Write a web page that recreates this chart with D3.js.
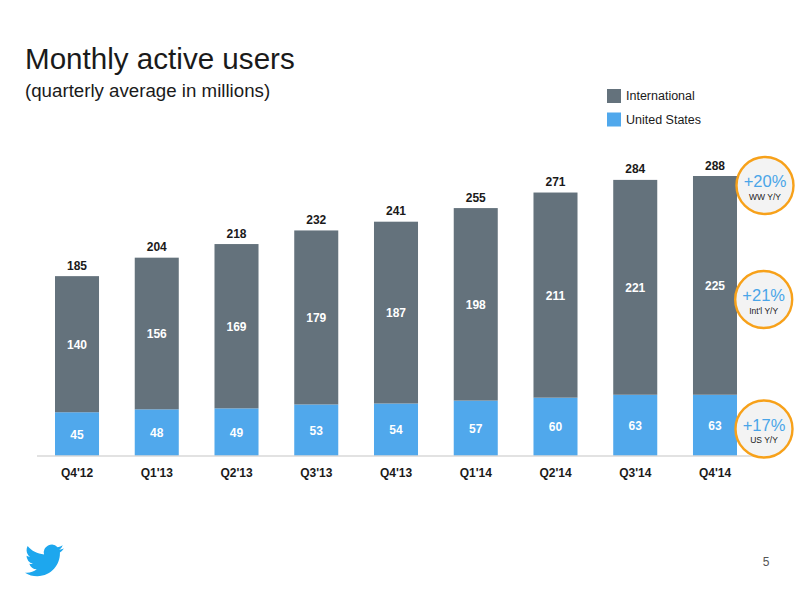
<!DOCTYPE html>
<html>
<head>
<meta charset="utf-8">
<script src="https://cdn.jsdelivr.net/npm/d3@7"></script>
<style>
  html, body { margin: 0; padding: 0; background: #fff; }
  svg { display: block; }
  text { font-family: "Liberation Sans", Arial, sans-serif; }
  .axis .domain { stroke: #d9d9d9; stroke-width: 1.5px; }
  .axis text { font-size: 12px; font-weight: bold; fill: #1a1a1a; }
</style>
</head>
<body>
<svg id="chart" width="800" height="600"></svg>
<script>
const quarters = ["Q4'12", "Q1'13", "Q2'13", "Q3'13", "Q4'13", "Q1'14", "Q2'14", "Q3'14", "Q4'14"];
const unitedStates = [45, 48, 49, 53, 54, 57, 60, 63, 63];
const international = [140, 156, 169, 179, 187, 198, 211, 221, 225];
const totals = [185, 204, 218, 232, 241, 255, 271, 284, 288];
const seriesNames = ["International", "United States"];
const growthValues = ["+20%", "+21%", "+17%"];
const growthLabels = ["WW Y/Y", "Int'l Y/Y", "US Y/Y"];

const GREY = "#64727c";
const BLUE = "#50a8ec";

const svg = d3.select("#chart");

const x = d3.scaleBand().domain(quarters).range([55, 737]).paddingInner(0.448);
const y = d3.scaleLinear().domain([0, 288]).range([456, 176]);

// title block
svg.append("text").attr("x", 25).attr("y", 68.5)
  .attr("font-size", 29.6).attr("fill", "#1a1a1a").text("Monthly active users");
svg.append("text").attr("x", 25).attr("y", 97)
  .attr("font-size", 18.7).attr("fill", "#1a1a1a").text("(quarterly average in millions)");

// legend
const legend = svg.selectAll(".legend").data(seriesNames).join("g")
  .attr("class", "legend")
  .attr("transform", (d, i) => `translate(607,${89 + i * 23.5})`);
legend.append("rect").attr("width", 14).attr("height", 14)
  .attr("fill", (d, i) => i === 0 ? GREY : BLUE);
legend.append("text").attr("x", 19).attr("y", 11)
  .attr("font-size", 12.5).attr("fill", "#1a1a1a").text(d => d);

// stacked bars
const rows = quarters.map((q, i) => ({ q, us: unitedStates[i], intl: international[i], total: totals[i] }));

svg.selectAll(".bar-us").data(rows).join("rect")
  .attr("class", "bar-us")
  .attr("x", d => x(d.q)).attr("width", x.bandwidth())
  .attr("y", d => y(d.us)).attr("height", d => y(0) - y(d.us))
  .attr("fill", BLUE);

svg.selectAll(".bar-intl").data(rows).join("rect")
  .attr("class", "bar-intl")
  .attr("x", d => x(d.q)).attr("width", x.bandwidth())
  .attr("y", d => y(d.us + d.intl)).attr("height", d => y(d.us) - y(d.us + d.intl))
  .attr("fill", GREY);

const mid = x.bandwidth() / 2;

svg.selectAll(".label-us").data(rows).join("text")
  .attr("class", "label-us")
  .attr("x", d => x(d.q) + mid).attr("y", d => y(d.us / 2) + 4.5)
  .attr("text-anchor", "middle").attr("font-size", 12).attr("font-weight", "bold")
  .attr("fill", "#fff").text(d => d.us);

svg.selectAll(".label-intl").data(rows).join("text")
  .attr("class", "label-intl")
  .attr("x", d => x(d.q) + mid).attr("y", d => y(d.us + d.intl / 2) + 4.5)
  .attr("text-anchor", "middle").attr("font-size", 12).attr("font-weight", "bold")
  .attr("fill", "#fff").text(d => d.intl);

svg.selectAll(".label-total").data(rows).join("text")
  .attr("class", "label-total")
  .attr("x", d => x(d.q) + mid).attr("y", d => y(d.total) - 6.5)
  .attr("text-anchor", "middle").attr("font-size", 12).attr("font-weight", "bold")
  .attr("fill", "#1a1a1a").text(d => d.total);

// axis
const axis = svg.append("g").attr("class", "axis")
  .attr("transform", `translate(0,${y(0)})`)
  .call(d3.axisBottom(x).tickSize(0).tickPadding(12));
axis.select(".domain").attr("d", "M37,0H755");

// growth callouts
const calloutX = [765, 763.7, 764];
const calloutY = [185.5, 299.5, 429];
const callout = svg.selectAll(".callout").data(growthValues).join("g")
  .attr("class", "callout")
  .attr("transform", (d, i) => `translate(${calloutX[i]},${calloutY[i]})`);
callout.append("circle").attr("r", 28.5)
  .attr("fill", "#f3f3f3").attr("stroke", "#f7a11a").attr("stroke-width", 2.4);
callout.append("text").attr("y", 1.5).attr("text-anchor", "middle")
  .attr("font-size", 16.5).attr("fill", "#4aa5e8").text(d => d);
callout.append("text").attr("y", 14).attr("text-anchor", "middle")
  .attr("font-size", 8.5).attr("fill", "#1a1a1a").text((d, i) => growthLabels[i]);

// bird logo
svg.append("path")
  .attr("transform", "translate(25,541) scale(1.62)")
  .attr("fill", "#1da7ee")
  .attr("d", "M23.953 4.57a10 10 0 01-2.825.775 4.958 4.958 0 002.163-2.723c-.951.555-2.005.959-3.127 1.184a4.92 4.92 0 00-8.384 4.482C7.69 8.095 4.067 6.13 1.64 3.162a4.822 4.822 0 00-.666 2.475c0 1.71.87 3.213 2.188 4.096a4.904 4.904 0 01-2.228-.616v.06a4.923 4.923 0 003.946 4.827 4.996 4.996 0 01-2.212.085 4.936 4.936 0 004.604 3.417 9.867 9.867 0 01-6.102 2.105c-.39 0-.779-.023-1.17-.067a13.995 13.995 0 007.557 2.209c9.053 0 13.998-7.496 13.998-13.985 0-.21 0-.42-.015-.63A9.935 9.935 0 0024 4.59z");

// page number
svg.append("text").attr("x", 766).attr("y", 566).attr("text-anchor", "middle")
  .attr("font-size", 12).attr("fill", "#555").text("5");
</script>
</body>
</html>
